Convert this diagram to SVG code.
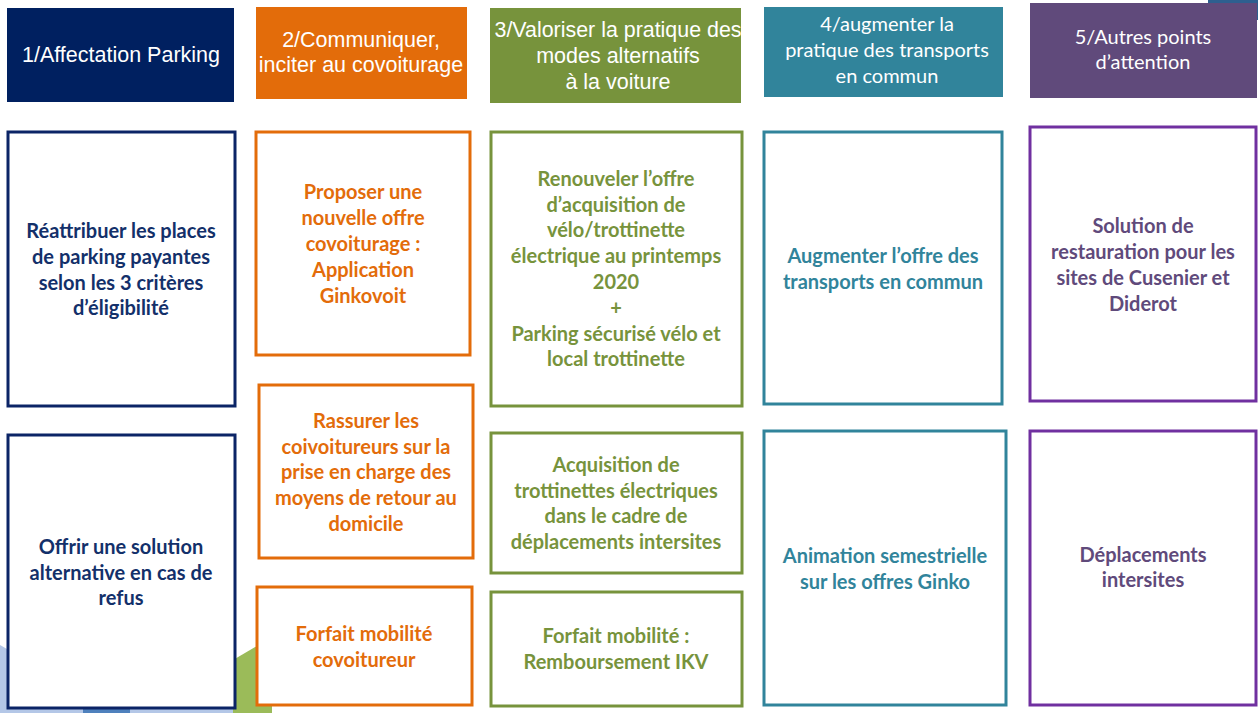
<svg xmlns="http://www.w3.org/2000/svg" width="1258" height="713" viewBox="0 0 1258 713">
  <style>
    .hdr { font-family: "Liberation Sans", Arial, sans-serif; font-size: 21.5px; fill: #ffffff; text-anchor: middle; }
    .hdr2 { font-family: Lato, "Liberation Sans", sans-serif; font-size: 20px; fill: #ffffff; text-anchor: middle; }
    .box { fill: #ffffff; stroke-width: 3; }
    .txt { font-family: Lato, "Liberation Sans", sans-serif; font-weight: bold; font-size: 20px; text-anchor: middle; }
    .c1 { stroke: #0b2466; } .t1 { fill: #13306a; }
    .c2 { stroke: #e36c0a; } .t2 { fill: #e36c0a; }
    .c3 { stroke: #77933c; } .t3 { fill: #77933c; }
    .c4 { stroke: #31849b; } .t4 { fill: #31849b; }
    .c5 { stroke: #7030a0; } .t5 { fill: #604a7b; }
  </style>

  <rect width="1258" height="713" fill="#ffffff"/>

  <!-- background ornaments -->
  <g id="ornaments">
    <polygon points="0,645 40,668 40,713 0,713" fill="#b4c7e7"/>
    <polygon points="20,713 40,700 83,700 83,713" fill="#b4c7e7"/>
    <polygon points="83,700 130,700 130,713 83,713" fill="#4f81bd"/>
    <polygon points="130,700 235,690 240,713 130,713" fill="#b4c7e7"/>
    <polygon points="257,646 233,660 233,713 272,713 272,656" fill="#9bbb59"/>
    <rect x="1208" y="0" width="50" height="20" fill="#2e5f8f"/>
  </g>

  <!-- column headers -->
  <g id="h1"><rect x="7" y="8" width="227" height="94" fill="#002060"/>
    <text class="hdr" x="121" y="62">1/Affectation Parking</text></g>
  <g id="h2"><rect x="256" y="7" width="211" height="92" fill="#e36c0a"/>
    <text class="hdr" x="361" y="47">2/Communiquer,</text>
    <text class="hdr" x="361" y="72">inciter au covoiturage</text></g>
  <g id="h3"><rect x="490" y="8" width="251" height="95" fill="#77933c"/>
    <text class="hdr" x="618" y="37" textLength="247" lengthAdjust="spacingAndGlyphs">3/Valoriser la pratique des</text>
    <text class="hdr" x="618" y="63">modes alternatifs</text>
    <text class="hdr" x="618" y="89">à la voiture</text></g>
  <g id="h4"><rect x="764" y="7" width="239" height="90" fill="#31849b"/>
    <text class="hdr2" x="887" y="31">4/augmenter la</text>
    <text class="hdr2" x="887" y="57">pratique des transports</text>
    <text class="hdr2" x="887" y="83">en commun</text></g>
  <g id="h5"><rect x="1030" y="3" width="227" height="95" fill="#604a7b"/>
    <text class="hdr2" x="1143" y="44">5/Autres points</text>
    <text class="hdr2" x="1143" y="69">d’attention</text></g>

  <!-- column 1 -->
  <g id="n1a"><rect class="box c1" x="8" y="132" width="227" height="274"/>
    <text class="txt t1"><tspan x="121" y="238">Réattribuer les places</tspan><tspan x="121" y="264">de parking payantes</tspan><tspan x="121" y="290">selon les 3 critères</tspan><tspan x="121" y="315">d’éligibilité</tspan></text></g>
  <g id="n1b"><rect class="box c1" x="8" y="435" width="227" height="273"/>
    <text class="txt t1"><tspan x="121" y="554">Offrir une solution</tspan><tspan x="121" y="580">alternative en cas de</tspan><tspan x="121" y="605">refus</tspan></text></g>

  <!-- column 2 -->
  <g id="n2a"><rect class="box c2" x="256" y="132" width="214" height="223"/>
    <text class="txt t2"><tspan x="363" y="199">Proposer une</tspan><tspan x="363" y="225">nouvelle offre</tspan><tspan x="363" y="251">covoiturage :</tspan><tspan x="363" y="277">Application</tspan><tspan x="363" y="303">Ginkovoit</tspan></text></g>
  <g id="n2b"><rect class="box c2" x="259" y="385" width="214" height="173"/>
    <text class="txt t2"><tspan x="366" y="428">Rassurer les</tspan><tspan x="366" y="454">coivoitureurs sur la</tspan><tspan x="366" y="479">prise en charge des</tspan><tspan x="366" y="505">moyens de retour au</tspan><tspan x="366" y="531">domicile</tspan></text></g>
  <g id="n2c"><rect class="box c2" x="257" y="587" width="215" height="118"/>
    <text class="txt t2"><tspan x="364" y="641">Forfait mobilité</tspan><tspan x="364" y="667">covoitureur</tspan></text></g>

  <!-- column 3 -->
  <g id="n3a"><rect class="box c3" x="491" y="132" width="251" height="274"/>
    <text class="txt t3"><tspan x="616" y="186">Renouveler l’offre</tspan><tspan x="616" y="212">d’acquisition de</tspan><tspan x="616" y="237">vélo/trottinette</tspan><tspan x="616" y="263">électrique au printemps</tspan><tspan x="616" y="289">2020</tspan><tspan x="616" y="315">+</tspan><tspan x="616" y="341">Parking sécurisé vélo et</tspan><tspan x="616" y="366">local trottinette</tspan></text></g>
  <g id="n3b"><rect class="box c3" x="491" y="433" width="251" height="140"/>
    <text class="txt t3"><tspan x="616" y="472">Acquisition de</tspan><tspan x="616" y="498">trottinettes électriques</tspan><tspan x="616" y="523">dans le cadre de</tspan><tspan x="616" y="549">déplacements intersites</tspan></text></g>
  <g id="n3c"><rect class="box c3" x="491" y="592" width="251" height="114"/>
    <text class="txt t3"><tspan x="616" y="643">Forfait mobilité :</tspan><tspan x="616" y="669">Remboursement IKV</tspan></text></g>

  <!-- column 4 -->
  <g id="n4a"><rect class="box c4" x="764" y="132" width="238" height="272"/>
    <text class="txt t4"><tspan x="883" y="263">Augmenter l’offre des</tspan><tspan x="883" y="289">transports en commun</tspan></text></g>
  <g id="n4b"><rect class="box c4" x="764" y="431" width="242" height="274"/>
    <text class="txt t4"><tspan x="885" y="563">Animation semestrielle</tspan><tspan x="885" y="589">sur les offres Ginko</tspan></text></g>

  <!-- column 5 -->
  <g id="n5a"><rect class="box c5" x="1030" y="127" width="226" height="274"/>
    <text class="txt t5"><tspan x="1143" y="233">Solution de</tspan><tspan x="1143" y="259">restauration pour les</tspan><tspan x="1143" y="285">sites de Cusenier et</tspan><tspan x="1143" y="311">Diderot</tspan></text></g>
  <g id="n5b"><rect class="box c5" x="1030" y="431" width="226" height="274"/>
    <text class="txt t5"><tspan x="1143" y="562">Déplacements</tspan><tspan x="1143" y="587">intersites</tspan></text></g>

  <g id="connectors"/>
</svg>
